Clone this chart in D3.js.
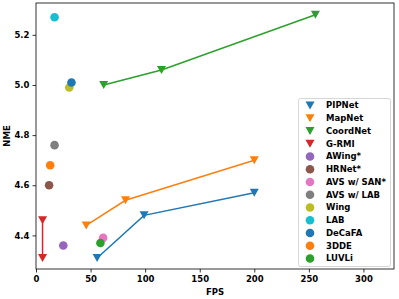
<!DOCTYPE html>
<html>
<head>
<meta charset="utf-8">
<script src="https://cdn.jsdelivr.net/npm/d3@7"></script>
<style>
  body { margin: 0; background: #fff; }
  text { font-family: "DejaVu Sans", sans-serif; font-weight: bold; }
</style>
</head>
<body>
<script>
// line series (triangle markers)
var lineNames = ["PIPNet", "MapNet", "CoordNet", "G-RMI"];
var lineColors = ["#1f77b4", "#ff7f0e", "#2ca02c", "#d62728"];
var lineFps = [
  [56, 99, 200],
  [46, 82, 200],
  [62, 115, 256],
  [6, 6]
];
var lineNme = [
  [4.31, 4.48, 4.57],
  [4.44, 4.54, 4.70],
  [5.00, 5.06, 5.28],
  [4.46, 4.31]
];

// single methods (circle markers)
var dotNames = ["AWing*", "HRNet*", "AVS w/ SAN*", "AVS w/ LAB", "Wing", "LAB", "DeCaFA", "3DDE", "LUVLi"];
var dotColors = ["#9467bd", "#8c564b", "#e377c2", "#7f7f7f", "#bcbd22", "#17becf", "#1f77b4", "#ff7f0e", "#2ca02c"];
var dotFps = [25, 12, 61.5, 17, 30.5, 17, 32.5, 13, 59];
var dotNme = [4.36, 4.60, 4.39, 4.76, 4.99, 5.27, 5.01, 4.68, 4.37];

var xTicks = [0, 50, 100, 150, 200, 250, 300];
var yTicks = [4.4, 4.6, 4.8, 5.0, 5.2];

function plot() {
  var width = 399, height = 299;
  var margin = {left: 36, right: 5, top: 3, bottom: 30};

  var svg = d3.select("body").append("svg")
      .attr("width", width)
      .attr("height", height);

  var x = d3.scaleLinear().domain([0, 328]).range([margin.left, width - margin.right]);
  var y = d3.scaleLinear().domain([4.266, 5.327]).range([height - margin.bottom, margin.top]);

  var xAxis = svg.append("g")
      .attr("transform", "translate(0," + (height - margin.bottom) + ")")
      .call(d3.axisBottom(x).tickValues(xTicks).tickSize(3.5).tickPadding(3));
  var yAxis = svg.append("g")
      .attr("transform", "translate(" + margin.left + ",0)")
      .call(d3.axisLeft(y).tickValues(yTicks).tickFormat(d3.format(".1f")).tickSize(3.5).tickPadding(3));
  [xAxis, yAxis].forEach(function(a) {
    a.select(".domain").remove();
    a.selectAll("text").style("font-size", "8.5px").attr("fill", "#000");
    a.selectAll("line").attr("stroke", "#000").attr("stroke-width", 0.8);
  });

  svg.append("rect")
      .attr("x", margin.left).attr("y", margin.top)
      .attr("width", width - margin.right - margin.left)
      .attr("height", height - margin.bottom - margin.top)
      .attr("fill", "none").attr("stroke", "#000").attr("stroke-width", 0.8);

  svg.append("text")
      .attr("x", (margin.left + width - margin.right) / 2)
      .attr("y", 295)
      .attr("text-anchor", "middle")
      .style("font-size", "8.5px")
      .text("FPS");
  svg.append("text")
      .attr("transform", "translate(10," + (margin.top + height - margin.bottom) / 2 + ") rotate(-90)")
      .attr("text-anchor", "middle")
      .style("font-size", "8.5px")
      .text("NME");

  // downward triangle, centred on its box like matplotlib's "v"
  var tri = "M0,4L-4.5,-4L4.5,-4Z";

  var line = d3.line()
      .x(function(d) { return x(d[0]); })
      .y(function(d) { return y(d[1]); });

  lineNames.forEach(function(name, i) {
    var pts = lineFps[i].map(function(f, j) { return [f, lineNme[i][j]]; });
    svg.append("path")
        .attr("d", line(pts))
        .attr("fill", "none")
        .attr("stroke", lineColors[i])
        .attr("stroke-width", 1.5);
    svg.selectAll(null)
        .data(pts).enter().append("path")
        .attr("d", tri)
        .attr("transform", function(d) { return "translate(" + x(d[0]) + "," + y(d[1]) + ")"; })
        .attr("fill", lineColors[i]);
  });

  dotNames.forEach(function(name, i) {
    svg.append("circle")
        .attr("cx", x(dotFps[i]))
        .attr("cy", y(dotNme[i]))
        .attr("r", 4.3)
        .attr("fill", dotColors[i]);
  });

  // legend
  var lg = svg.append("g");
  lg.append("rect")
      .attr("x", 298.5).attr("y", 98.5)
      .attr("width", 92).attr("height", 168)
      .attr("rx", 2)
      .attr("fill", "#fff").attr("fill-opacity", 0.8)
      .attr("stroke", "#ccc").attr("stroke-width", 0.8);

  var entries = lineNames.map(function(n, i) { return {name: n, color: lineColors[i], tri: true}; })
      .concat(dotNames.map(function(n, i) { return {name: n, color: dotColors[i], tri: false}; }));

  entries.forEach(function(e, i) {
    var cy = 105.5 + i * 12.75;
    if (e.tri) {
      lg.append("path")
          .attr("d", tri)
          .attr("transform", "translate(310," + cy + ")")
          .attr("fill", e.color);
    } else {
      lg.append("circle")
          .attr("cx", 310).attr("cy", cy).attr("r", 4.3)
          .attr("fill", e.color);
    }
    lg.append("text")
        .attr("x", 326).attr("y", cy)
        .attr("dy", "0.35em")
        .style("font-size", "8.5px")
        .text(e.name);
  });
}

plot();
</script>
</body>
</html>
